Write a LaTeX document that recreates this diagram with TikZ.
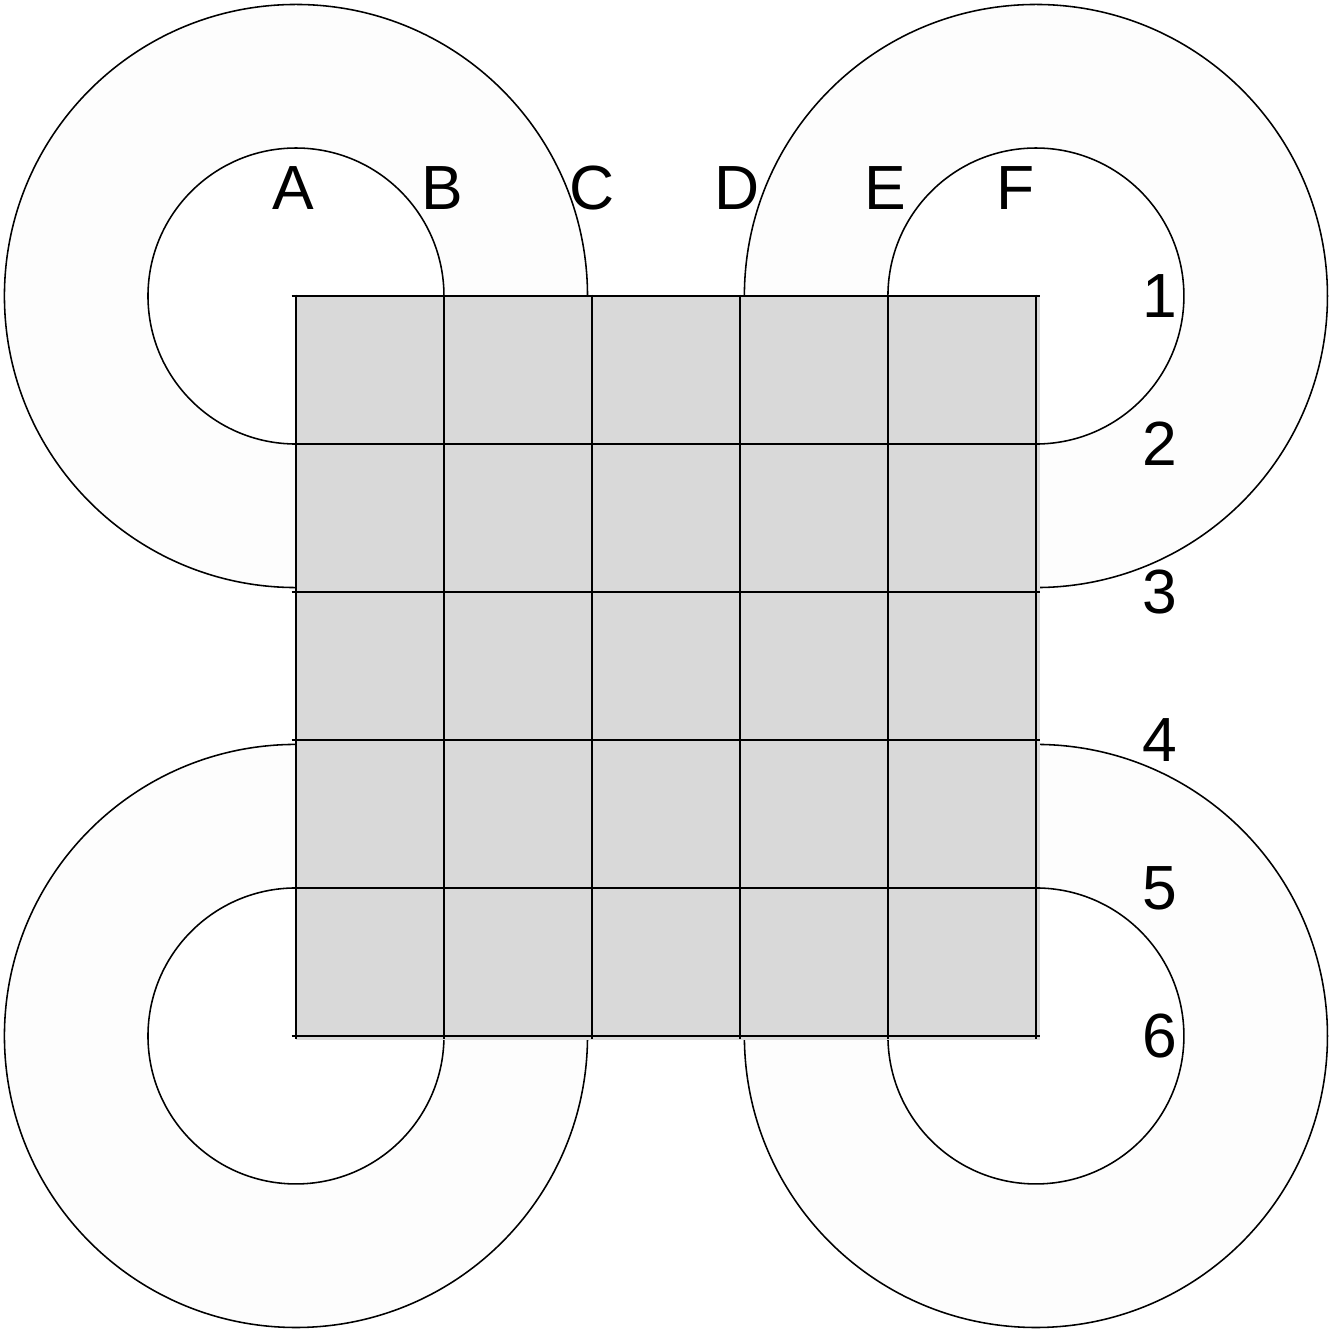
\documentclass[tikz,border=0pt]{standalone}
\usepackage{fontspec}
\setmainfont{Liberation Sans}
\begin{document}
\begin{tikzpicture}[line width=.3pt,
    ring/.style={fill=black!.6,draw=none},
    lbl/.style={font=\fontsize{12}{14}\selectfont,inner sep=0pt}]
    \useasboundingbox (-2,-7.014) rectangle (6.986,2);

    % the four three-quarter rings
    \foreach \cx/\cy/\a in {0/0/0, 5/0/-90, 0/-5/90, 5/-5/180} {
      \path[ring] ([shift={(\a:1.97)}]\cx,\cy) arc[start angle=\a,end angle=\a+270,radius=1.97]
        -- ([shift={(\a+270:1)}]\cx,\cy) arc[start angle=\a+270,end angle=\a,radius=1] -- cycle;
      \draw ([shift={(\a:1.97)}]\cx,\cy) arc[start angle=\a,end angle=\a+270,radius=1.97];
      \draw ([shift={(\a:1)}]\cx,\cy) arc[start angle=\a,end angle=\a+270,radius=1];
    }

    % the board
    \fill[black!15] (0,0) rectangle (5.03,-5.03);
    \foreach \i in {0,...,5} {
      \draw[line width=.4pt] (\i,.01) -- (\i,-5.02);
      \draw[line width=.4pt] (-.03,-\i) -- (5.03,-\i);
    }

    % labels
    \foreach \n/\x in {A/-.02, B/.99, C/2, D/2.98, E/3.98, F/4.86}
      \node[lbl] (col\n) at (\x,.73) {\n};
    \foreach \n in {1,...,6}
      \node[lbl] (row\n) at (5.84,{1-\n}) {\n};
  \end{tikzpicture}
\end{document}
